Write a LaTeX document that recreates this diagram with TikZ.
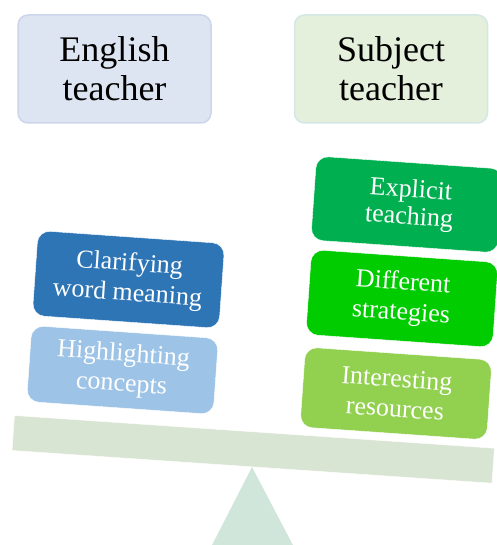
\documentclass[tikz,border=0pt]{standalone}
\usepackage{fontspec}
\setmainfont{Liberation Serif}
\usetikzlibrary{positioning}

\definecolor{engfill}{HTML}{DEE5F2}
\definecolor{engline}{HTML}{CDD5EB}
\definecolor{subfill}{HTML}{E4EFDC}
\definecolor{subline}{HTML}{D3E8E6}
\definecolor{darkblue}{HTML}{2E75B6}
\definecolor{lightblue}{HTML}{9DC3E6}
\definecolor{darkgreen}{HTML}{00B050}
\definecolor{brightgreen}{HTML}{00CC00}
\definecolor{lightgreen}{HTML}{92D050}
\definecolor{beamfill}{HTML}{D9E5D3}
\definecolor{pivotfill}{HTML}{D1E6DA}

\begin{document}
\begin{tikzpicture}
  [
  x = 1pt, y = -1pt,
  % teacher
  teacher/.style = {rectangle,
    rounded corners = 10pt,
    draw, line width = 1.5pt,
    minimum height = 108pt,
    minimum width = 193pt,
    align = center,
    font = \fontsize{36}{39}\selectfont},
  % strategy
  strategy/.style = {rectangle,
    rounded corners = 12pt,
    draw = white, thin,
    minimum width = 187pt,
    align = center, text = white,
    rotate = -4,
    font = \fontsize{26}{30}\selectfont},
  % beam
  beam/.style = {rectangle,
    fill = beamfill, draw = white, thin,
    minimum width = 481pt,
    minimum height = 35pt,
    rotate = -3.9},
  ]
  \useasboundingbox (0,0) rectangle (496,545);

  % nodes
  \node [teacher, fill = engfill, draw = engline] (english) at (114.5,69) {English\\teacher};
  \node [teacher, fill = subfill, draw = subline, right = 82pt of english] (subject) {Subject\\teacher};

  \node [strategy, fill = darkblue, minimum height = 85pt] (clarify) at (128.5,279.5) {Clarifying\\word meaning};
  \node [strategy, fill = lightblue, minimum height = 76pt] (highlight) at (122.5,370) {Highlighting\\concepts};

  \node [strategy, fill = darkgreen, minimum height = 84pt,
    font = \fontsize{26}{27}\selectfont] (explicit) at (407,204.5) {\hspace*{6pt}Explicit\\\hspace*{6pt}teaching};
  \node [strategy, fill = brightgreen, minimum height = 85pt] (strategies) at (402,298.5) {Different\\strategies};
  \node [strategy, fill = lightgreen, minimum height = 80pt] (resources) at (396,393.5) {Interesting\\resources};

  % seesaw
  \coordinate (pivot) at (252,467);
  \coordinate (footL) at (210,549);
  \coordinate (footR) at (295,549);
  \fill [pivotfill] (pivot) -- (footL) -- (footR) -- cycle;
  \node [beam, anchor = south] (beam) at (pivot) {};

\end{tikzpicture}
\end{document}
